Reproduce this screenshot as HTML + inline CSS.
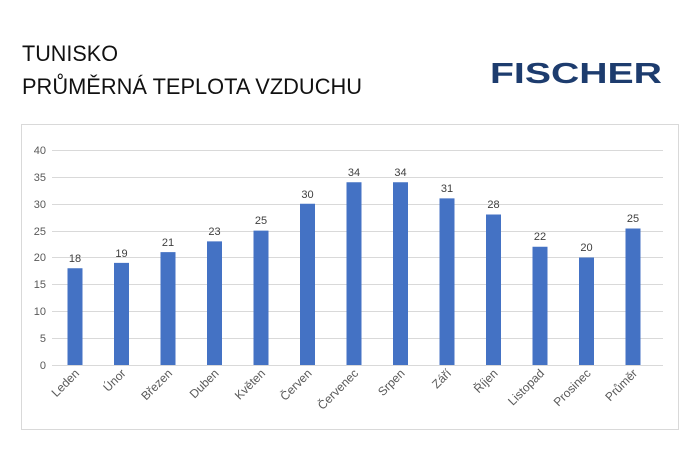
<!DOCTYPE html>
<html><head><meta charset="utf-8"><style>
body{margin:0;background:#fff;width:700px;height:450px;overflow:hidden;font-family:"Liberation Sans",sans-serif}
</style></head><body>
<svg width="700" height="450" xmlns="http://www.w3.org/2000/svg" font-family="Liberation Sans, sans-serif">
<text x="22" y="61" font-size="22" fill="#111" textLength="96" lengthAdjust="spacingAndGlyphs">TUNISKO</text>
<text x="22" y="94" font-size="22" fill="#111" textLength="340" lengthAdjust="spacingAndGlyphs">PRŮMĚRNÁ TEPLOTA VZDUCHU</text>
<text x="490" y="83" font-size="29" font-weight="bold" fill="#1d3c6e" textLength="172" lengthAdjust="spacingAndGlyphs">FISCHER</text>
<rect x="21.5" y="124.5" width="657" height="305" fill="#fff" stroke="#d9d9d9"/>
<g stroke="#d9d9d9" stroke-width="1">
<line x1="52" x2="663" y1="150.5" y2="150.5"/><line x1="52" x2="663" y1="177.5" y2="177.5"/>
<line x1="52" x2="663" y1="204.5" y2="204.5"/><line x1="52" x2="663" y1="231.5" y2="231.5"/>
<line x1="52" x2="663" y1="257.5" y2="257.5"/><line x1="52" x2="663" y1="284.5" y2="284.5"/>
<line x1="52" x2="663" y1="311.5" y2="311.5"/><line x1="52" x2="663" y1="338.5" y2="338.5"/>
<line x1="52" x2="663" y1="365.5" y2="365.5"/>
</g>
<g font-size="11" fill="#595959" text-anchor="end">
<text x="46" y="154">40</text><text x="46" y="181">35</text><text x="46" y="208">30</text>
<text x="46" y="235">25</text><text x="46" y="261">20</text><text x="46" y="288">15</text>
<text x="46" y="315">10</text><text x="46" y="342">5</text><text x="46" y="369">0</text>
</g>
<g fill="#4472c4">
<rect x="67.5" y="268.25" width="15" height="96.75"/>
<rect x="114" y="262.875" width="15" height="102.125"/>
<rect x="160.5" y="252.125" width="15" height="112.875"/>
<rect x="207" y="241.375" width="15" height="123.625"/>
<rect x="253.5" y="230.625" width="15" height="134.375"/>
<rect x="300" y="203.75" width="15" height="161.25"/>
<rect x="346.5" y="182.25" width="15" height="182.75"/>
<rect x="393" y="182.25" width="15" height="182.75"/>
<rect x="439.5" y="198.375" width="15" height="166.625"/>
<rect x="486" y="214.5" width="15" height="150.5"/>
<rect x="532.5" y="246.75" width="15" height="118.25"/>
<rect x="579" y="257.5" width="15" height="107.5"/>
<rect x="625.5" y="228.5" width="15" height="136.5"/>
</g>
<g font-size="11" fill="#404040" text-anchor="middle">
<text x="75" y="262">18</text>
<text x="121.5" y="257">19</text>
<text x="168" y="246">21</text>
<text x="214.5" y="235">23</text>
<text x="261" y="224">25</text>
<text x="307.5" y="198">30</text>
<text x="354" y="176">34</text>
<text x="400.5" y="176">34</text>
<text x="447" y="192">31</text>
<text x="493.5" y="208">28</text>
<text x="540" y="240">22</text>
<text x="586.5" y="251">20</text>
<text x="633" y="222">25</text>
</g>
<g font-size="12" fill="#595959" text-anchor="end">
<text transform="translate(80,374) rotate(-45)">Leden</text>
<text transform="translate(126.5,374) rotate(-45)">Únor</text>
<text transform="translate(173,374) rotate(-45)">Březen</text>
<text transform="translate(219.5,374) rotate(-45)">Duben</text>
<text transform="translate(266,374) rotate(-45)">Květen</text>
<text transform="translate(312.5,374) rotate(-45)">Červen</text>
<text transform="translate(359,374) rotate(-45)">Červenec</text>
<text transform="translate(405.5,374) rotate(-45)">Srpen</text>
<text transform="translate(452,374) rotate(-45)">Září</text>
<text transform="translate(498.5,374) rotate(-45)">Říjen</text>
<text transform="translate(545,374) rotate(-45)">Listopad</text>
<text transform="translate(591.5,374) rotate(-45)">Prosinec</text>
<text transform="translate(638,374) rotate(-45)">Průměr</text>
</g>
</svg>
</body></html>
